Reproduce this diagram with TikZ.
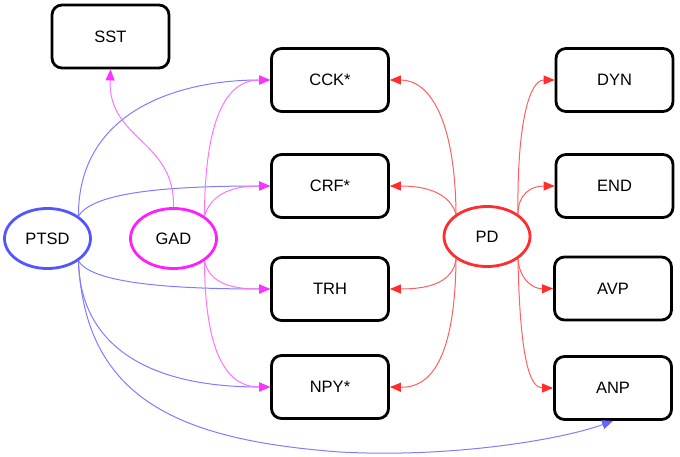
\documentclass[tikz,border=0pt]{standalone}
\usepackage{fontspec}
\setmainfont{Liberation Sans}
\usetikzlibrary{arrows.meta,shapes.geometric}
\definecolor{bluel}{RGB}{125,125,255}
\definecolor{blued}{RGB}{100,100,255}
\definecolor{blueE}{RGB}{85,85,255}
\definecolor{magl}{RGB}{255,115,255}
\definecolor{magd}{RGB}{255,51,255}
\definecolor{magE}{RGB}{255,30,255}
\definecolor{redl}{RGB}{255,95,95}
\definecolor{redd}{RGB}{255,45,45}
\definecolor{redE}{RGB}{255,45,45}
\tikzset{
  box/.style={draw=black, line width=2.8pt, rounded corners=10pt, minimum width=117pt, minimum height=63pt, font=\fontsize{16.5}{18}\selectfont, inner sep=0pt},
  dis/.style={ellipse, line width=2.8pt, minimum width=86pt, minimum height=60pt, font=\fontsize{16.5}{18}\selectfont, inner sep=0pt},
  bedge/.style={draw=bluel, line width=1pt, -{Triangle[length=11pt,width=9pt,color=blued]}},
  medge/.style={draw=magl, line width=1pt, -{Triangle[length=11pt,width=9pt,color=magd]}},
  redge/.style={draw=redl, line width=1pt, -{Triangle[length=11pt,width=9pt,color=redd]}},
}
\begin{document}
\begin{tikzpicture}[x=1pt,y=-1pt]
\useasboundingbox (0,0) rectangle (680,457);
\node[box] (SST) at (110.5,36.5) {SST};
\node[box] (CCK) at (330,80) {CCK*};
\node[box] (CRF) at (330,186) {CRF*};
\node[box] (TRH) at (330,289) {TRH};
\node[box] (NPY) at (330,387) {NPY*};
\node[box] (DYN) at (614.5,80) {DYN};
\node[box] (END) at (614.5,186) {END};
\node[box] (AVP) at (613,288.5) {AVP};
\node[box] (ANP) at (613,388) {ANP};
\node[dis, draw=blueE] (PTSD) at (47.5,238.5) {PTSD};
\node[dis, draw=magE] (GAD) at (173.5,238.5) {GAD};
\node[dis, draw=redE] (PD) at (487,236.5) {PD};
% PTSD edges
\draw[bedge] (PTSD.36) .. controls (78,110) and (180,80) .. (CCK.west);
\draw[bedge] (PTSD.36) .. controls (92,195) and (150,186) .. (CRF.west);
\draw[bedge] (PTSD.-36) .. controls (90,280) and (150,289) .. (TRH.west);
\draw[bedge] (PTSD.-36) .. controls (80,340) and (140,387) .. (NPY.west);
\draw[bedge] (PTSD.-36) .. controls (85,400) and (180,440) .. (340,452) .. controls (450,458) and (560,440) .. (ANP.south);
% GAD edges
\draw[medge] (GAD.north) .. controls (175,140) and (108,140) .. (SST.south);
\draw[medge] (GAD.36) .. controls (205,110) and (230,80) .. (CCK.west);
\draw[medge] (GAD.36) .. controls (212,192) and (235,186) .. (CRF.west);
\draw[medge] (GAD.-36) .. controls (210,285) and (235,289) .. (TRH.west);
\draw[medge] (GAD.-36) .. controls (205,350) and (225,387) .. (NPY.west);
% PD edges
\draw[redge] (PD.144) .. controls (455,120) and (430,80) .. (CCK.east);
\draw[redge] (PD.144) .. controls (450,195) and (430,186) .. (CRF.east);
\draw[redge] (PD.-144) .. controls (453,282) and (430,289) .. (TRH.east);
\draw[redge] (PD.-144) .. controls (455,360) and (430,388) .. (NPY.east);
\draw[redge] (PD.36) .. controls (517,120) and (530,80) .. (DYN.west);
\draw[redge] (PD.36) .. controls (518,195) and (530,186) .. (END.west);
\draw[redge] (PD.-36) .. controls (520,282) and (535,289) .. (AVP.west);
\draw[redge] (PD.-36) .. controls (520,360) and (530,388) .. (ANP.west);
\end{tikzpicture}
\end{document}
